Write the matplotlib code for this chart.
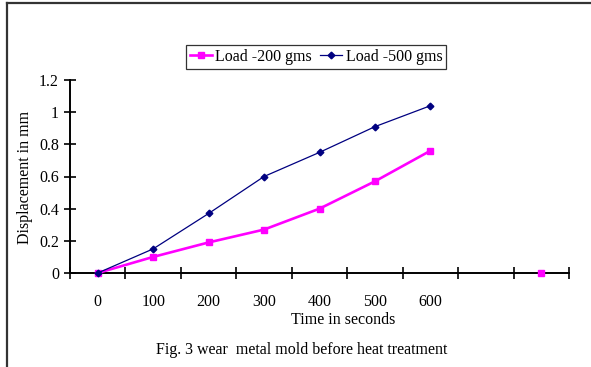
import numpy as np
import matplotlib
matplotlib.use("Agg")
from matplotlib import pyplot as plt
from matplotlib.lines import Line2D

plt.rcParams["font.family"] = ["Liberation Serif", "DejaVu Serif"]

# category axis: the last two slots carry no label
categories = ["0", "100", "200", "300", "400", "500", "600", "", ""]
load_200 = [0, 0.10, 0.19, 0.27, 0.40, 0.57, 0.76, np.nan, 0]
load_500 = [0, 0.15, 0.37, 0.60, 0.75, 0.91, 1.04, np.nan, np.nan]

W, H = 591, 367
FS = 11.5
fig = plt.figure(figsize=(W / 100, H / 100), dpi=100)
ax = fig.add_axes([70 / W, (H - 273) / H, (569 - 70) / W, (273 - 80) / H])

x = np.arange(len(categories))
ax.plot(x, load_200, color="#FF00FF", lw=1.9, marker="s", ms=5,
        label="Load -200 gms", clip_on=False, zorder=3)
ax.plot(x, load_500, color="#000080", lw=0.9, marker="D", ms=3.4,
        label="Load -500 gms", clip_on=False, zorder=4)

ax.set_xlim(-0.5, len(categories) - 0.5)
ax.set_ylim(0, 1.2)
ax.set_yticks(np.arange(0, 1.21, 0.2))
ax.set_yticklabels(["0", "0.2", "0.4", "0.6", "0.8", "1", "1.2"])
ax.set_xticks(x)
ax.set_xticklabels(categories)
ax.set_xticks(np.arange(-0.5, len(categories), 1), minor=True)
ax.tick_params(axis="x", which="major", length=0, pad=15, labelsize=FS)
ax.tick_params(axis="x", which="minor", direction="inout", length=9, width=1.2)
ax.tick_params(axis="y", direction="inout", length=9, width=1.2, labelsize=FS)

for side in ("top", "right"):
    ax.spines[side].set_visible(False)
for side in ("left", "bottom"):
    ax.spines[side].set_linewidth(1.4)

fig.text(343 / W, 1 - 320 / H, "Time in seconds", ha="center", va="center",
         fontsize=FS)
fig.text(25 / W, 1 - 177 / H, "Displacement in mm", ha="center", va="center",
         rotation=90, fontsize=FS)
fig.text(302 / W, 1 - 350 / H, "Fig. 3 wear  metal mold before heat treatment",
         ha="center", va="center", fontsize=FS)

leg = fig.legend(loc="center", bbox_to_anchor=(316 / W, 1 - 57 / H), ncol=2,
                 frameon=True, fancybox=False, fontsize=FS, handlelength=1.4,
                 handletextpad=0.2, columnspacing=0.5, borderpad=0.25,
                 borderaxespad=0)
leg.get_frame().set_edgecolor("black")
leg.get_frame().set_linewidth(0.9)

# outer frame: only left and top edges
fig.add_artist(Line2D([7 / W, 7 / W], [0, 1 - 3 / H], color="#333333", lw=1.6))
fig.add_artist(Line2D([7 / W, 1], [1 - 3 / H, 1 - 3 / H], color="#333333", lw=1.6))

fig.savefig("out.png", dpi=100)
